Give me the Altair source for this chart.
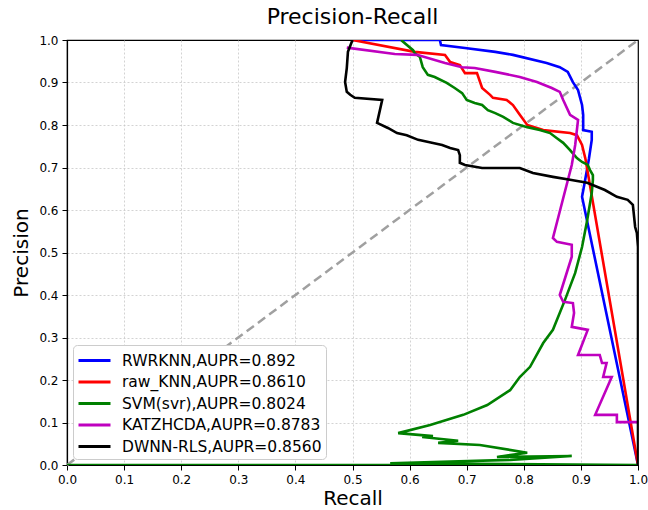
import altair as alt
import pandas as pd

names = ["RWRKNN,AUPR=0.892", "raw_KNN,AUPR=0.8610", "SVM(svr),AUPR=0.8024",
         "KATZHCDA,AUPR=0.8783", "DWNN-RLS,AUPR=0.8560"]
colors = ["#0000ff", "#ff0000", "#008000", "#bf00bf", "#000000"]

rwr_x = [0.5, 0.653, 0.655, 0.697, 0.75, 0.781, 0.84, 0.863, 0.877, 0.886, 0.895, 0.902, 0.904, 0.904, 0.919, 0.919, 0.914, 0.906, 0.902, 1.0]
rwr_y = [1.0, 1.0, 0.988, 0.981, 0.972, 0.965, 0.946, 0.936, 0.925, 0.901, 0.882, 0.847, 0.824, 0.788, 0.784, 0.765, 0.72, 0.66, 0.631, 0.0]

knn_x = [0.5, 0.609, 0.662, 0.671, 0.688, 0.697, 0.718, 0.727, 0.741, 0.746, 0.77, 0.781, 0.793, 0.806, 0.834, 0.881, 0.893, 0.902, 0.908, 1.0]
knn_y = [1.0, 0.972, 0.965, 0.948, 0.941, 0.922, 0.922, 0.887, 0.871, 0.864, 0.859, 0.847, 0.824, 0.8, 0.788, 0.781, 0.776, 0.753, 0.72, 0.0]

svm_x = [0.585, 0.606, 0.609, 0.618, 0.623, 0.632, 0.644, 0.665, 0.679, 0.692, 0.7, 0.714, 0.727, 0.737, 0.75, 0.764, 0.781, 0.806, 0.828, 0.846, 0.858, 0.869, 0.881, 0.893, 0.902, 0.912, 0.916, 0.921, 0.921, 0.919, 0.911, 0.902, 0.89, 0.872, 0.851, 0.834, 0.811, 0.793, 0.776, 0.736, 0.694, 0.636, 0.58, 0.641, 0.622, 0.685, 0.65, 0.723, 0.806, 0.753, 0.884, 0.776, 0.566, 1.0, 0.0]
svm_y = [1.0, 0.976, 0.969, 0.96, 0.936, 0.918, 0.913, 0.899, 0.887, 0.875, 0.859, 0.852, 0.847, 0.835, 0.828, 0.819, 0.805, 0.795, 0.788, 0.781, 0.769, 0.758, 0.741, 0.722, 0.713, 0.706, 0.694, 0.682, 0.671, 0.64, 0.576, 0.513, 0.452, 0.388, 0.318, 0.287, 0.231, 0.207, 0.176, 0.141, 0.118, 0.094, 0.075, 0.068, 0.066, 0.057, 0.052, 0.047, 0.029, 0.019, 0.021, 0.012, 0.004, 0.0, 0.0]

katz_x = [0.49, 0.574, 0.613, 0.662, 0.692, 0.714, 0.75, 0.793, 0.823, 0.849, 0.863, 0.869, 0.881, 0.895, 0.89, 0.884, 0.851, 0.858, 0.884, 0.884, 0.863, 0.869, 0.886, 0.888, 0.884, 0.912, 0.895, 0.933, 0.937, 0.945, 0.939, 0.954, 0.925, 0.963, 0.963, 1.0]
katz_y = [0.982, 0.967, 0.965, 0.946, 0.936, 0.934, 0.925, 0.913, 0.901, 0.887, 0.878, 0.859, 0.824, 0.812, 0.753, 0.706, 0.534, 0.525, 0.518, 0.49, 0.4, 0.384, 0.381, 0.358, 0.325, 0.318, 0.259, 0.259, 0.24, 0.24, 0.207, 0.207, 0.118, 0.118, 0.101, 0.101]

dwnn_x = [0.5, 0.492, 0.49, 0.487, 0.49, 0.496, 0.504, 0.552, 0.543, 0.562, 0.578, 0.595, 0.615, 0.639, 0.657, 0.671, 0.685, 0.688, 0.688, 0.697, 0.727, 0.75, 0.793, 0.816, 0.851, 0.881, 0.911, 0.942, 0.963, 0.982, 0.991, 0.995, 0.998, 1.0, 1.0]
dwnn_y = [1.0, 0.972, 0.934, 0.901, 0.878, 0.871, 0.864, 0.859, 0.805, 0.793, 0.781, 0.776, 0.765, 0.758, 0.753, 0.746, 0.741, 0.729, 0.711, 0.706, 0.699, 0.699, 0.699, 0.687, 0.678, 0.671, 0.664, 0.647, 0.631, 0.624, 0.612, 0.56, 0.546, 0.513, 0.0]

diag_x = [0.0, 1.0]
diag_y = [0.0, 1.0]

rows = []
for name, xs, ys in zip(names, [rwr_x, knn_x, svm_x, katz_x, dwnn_x],
                        [rwr_y, knn_y, svm_y, katz_y, dwnn_y]):
    for i, (x, y) in enumerate(zip(xs, ys)):
        rows.append({"model": name, "recall": x, "precision": y, "i": i})
df = pd.DataFrame(rows)
diag = pd.DataFrame({"recall": diag_x, "precision": diag_y})

ticks = [round(0.1 * k, 1) for k in range(11)]
xscale = alt.Scale(domain=[0, 1], nice=False, zero=False)
yscale = alt.Scale(domain=[0, 1], nice=False, zero=False)

grid_op = alt.condition("datum.value >= 0.999 || datum.value <= 0.001", alt.value(0), alt.value(1))

xaxis = alt.Axis(title="Recall", values=ticks, format=".1f", grid=True,
                 titleFontSize=20, titleFontWeight="normal", titlePadding=3,
                 labelFontSize=12, labelPadding=4, labelFlush=False, gridOpacity=grid_op)
yaxis = alt.Axis(title="Precision", values=ticks, format=".1f", grid=True,
                 titleFontSize=20, titleFontWeight="normal", titlePadding=7,
                 labelFontSize=12, labelPadding=4, labelFlush=False, gridOpacity=grid_op)

diag_layer = alt.Chart(diag).mark_line(
    color="#a0a0a0", strokeWidth=2.5, strokeDash=[9, 5]
).encode(
    x=alt.X("recall:Q", scale=xscale, axis=xaxis),
    y=alt.Y("precision:Q", scale=yscale, axis=yaxis),
)

lines = alt.Chart(df).mark_line(strokeWidth=2.6, clip=True).encode(
    x=alt.X("recall:Q", scale=xscale, axis=xaxis),
    y=alt.Y("precision:Q", scale=yscale, axis=yaxis),
    color=alt.Color("model:N", scale=alt.Scale(domain=names, range=colors),
                    legend=alt.Legend(
                        title=None, orient="none", legendX=6, legendY=305,
                        symbolType="M-1.6,0L1.6,0", symbolStrokeWidth=3, symbolSize=400,
                        symbolOffset=6,
                        labelFontSize=15.5, labelFont="DejaVu Sans", labelColor="#000000",
                        labelLimit=0, labelOffset=16,
                        rowPadding=1.5, padding=4, strokeColor="#cccccc",
                        fillColor="#ffffff", cornerRadius=4,
                    )),
    detail="model:N",
    order="i:Q",
)

chart = alt.layer(diag_layer, lines).properties(
    width=571, height=425,
    padding={"left": 67, "top": 40, "right": 10, "bottom": 45},
    autosize=alt.AutoSizeParams(type="none"),
    title=alt.Title("Precision-Recall", fontSize=22, fontWeight="normal",
                    font="DejaVu Sans", color="#000000", offset=5),
).configure(
    font="DejaVu Sans",
).configure_axis(
    domainColor="#000000", domainWidth=1.2, tickColor="#000000", tickSize=5,
    labelColor="#000000", titleColor="#000000",
    gridColor="#c8c8c8", gridDash=[2, 2], gridWidth=0.8,
    labelFont="DejaVu Sans", titleFont="DejaVu Sans",
).configure_view(
    stroke="#000000", strokeWidth=1.2,
)

chart.save("out.html", embed_options={"renderer": "svg", "actions": False})
